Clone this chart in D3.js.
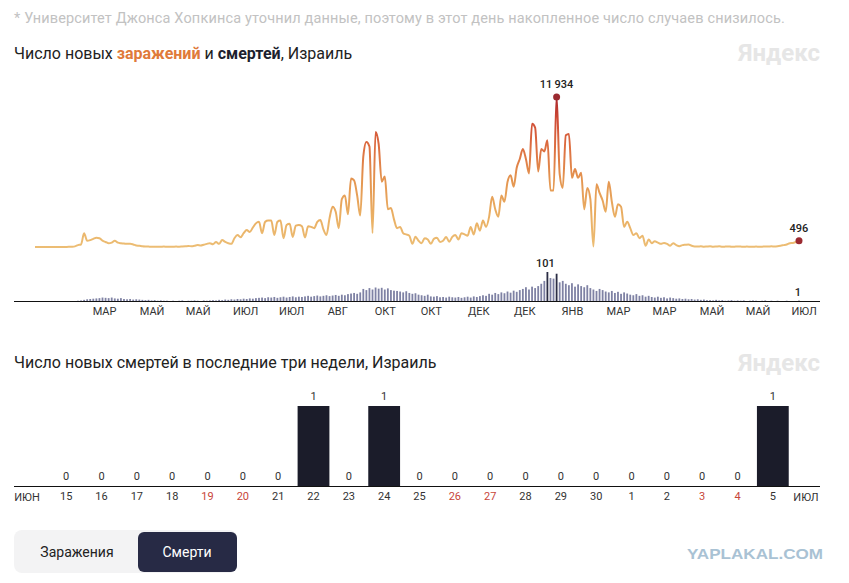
<!DOCTYPE html>
<html>
<head>
<meta charset="utf-8">
<script src="https://cdn.jsdelivr.net/npm/d3@7"></script>
<style>
    body { margin: 0; background: #fff; }
    svg { display: block; font-family: Roboto, "Open Sans", sans-serif; }
</style>
</head>
<body>
<svg id="chart" width="849" height="583"></svg>
<script>
;(function(d3) {

    'use strict';

    // --- data, one value every 2 days (21 Feb 2020 .. 5 Jul 2021) ---
    var dayStep = 2;

    var cases = [
        0,0,0,0,0,0,0,0,0,0,
        5,10,20,50,150,200,
        1100,500,550,650,740,700,500,400,300,350,500,350,300,280,250,250,200,120,100,60,40,
        30,20,25,15,20,30,15,20,25,30,20,40,
        60,80,60,100,150,120,180,250,300,220,400,250,550,400,300,250,
        700,950,770,1100,1350,1200,1550,1880,2000,1100,2000,2100,2100,950,2000,2100,700,1750,1850,800,1700,1750,1650,750,1650,1600,1500,2000,2150,1400,950,
        2300,3200,2800,1500,3800,4100,2600,5450,5300,4100,2500,7200,8360,8000,1100,9150,8200,5200,5600,3000,3100,2200,1500,1600,1100,1000,900,250,820,500,
        300,700,600,250,650,740,400,500,800,420,800,950,600,1100,1000,900,1600,1000,1880,1300,2100,1600,2400,
        4000,3000,2400,4100,3600,5180,5700,4800,6300,7000,7800,7000,5850,9800,9500,6000,7800,7600,8500,4500,4500,11934,5800,4700,8890,9000,5500,6200,5500,5900,3000,4700,3800,
        30,5000,4300,3700,2800,5200,3600,2400,3400,3200,1600,2000,1500,950,1100,700,900,100,600,300,450,350,250,320,250,100,300,150,60,150,180,200,100,40,
        30,50,20,40,60,25,35,50,20,30,45,20,25,40,30,20,35,25,15,30,20,25,40,30,
        50,40,60,100,150,200,300,320,400,496
    ];

    var deaths = [
        0,0,0,0,0,0,0,0,0,0,0,0,0,0,
        1,2,4,6,7,8,9,
        10,12,11,10,12,9,8,10,7,
        6,7,5,6,5,4,3,4,2,3,1,2,1,1,0,
        1,0,1,2,0,1,1,2,1,0,2,1,2,3,2,
        4,3,5,4,6,5,7,6,8,7,9,8,10,
        11,12,10,13,12,14,11,13,15,12,14,16,13,15,14,
        16,18,15,17,19,16,18,20,17,19,21,18,22,20,24,26,
        28,25,30,42,38,45,40,
        47,43,46,40,44,38,36,
        35,33,30,34,28,25,27,22,
        20,18,22,16,15,17,13,14,12,15,
        13,12,14,11,13,15,12,16,14,17,
        20,18,25,22,28,24,30,27,33,29,36,32,38,
        42,48,40,50,45,52,60,
        70,101,80,78,95,65,70,
        60,55,62,50,58,52,48,55,
        45,40,35,42,38,33,30,
        35,28,32,25,30,26,22,20,
        24,18,20,15,18,14,12,15,
        11,13,9,12,10,8,9,7,
        8,6,7,5,6,4,5,3,
        3,2,4,2,3,1,2,3,1,2,1,2,0,1,2,1,0,1,2,0,1,
        0,1,0,0,1,0,0,0,1
    ];

    var tickDays   = [45, 76, 106, 137, 167, 197, 228, 258, 289, 319, 350, 380, 410, 441, 471, 501];
    var tickLabels = ['МАР','МАЙ','МАЙ','ИЮЛ','ИЮЛ','АВГ','ОКТ','ОКТ','ДЕК','ДЕК','ЯНВ','МАР','МАР','МАЙ','МАЙ','ИЮЛ'];

    // last three weeks
    var recentDays   = ['15','16','17','18','19','20','21','22','23','24','25','26','27','28','29','30','1','2','3','4','5'];
    var recentDeaths = [0,0,0,0,0,0,0,1,0,1,0,0,0,0,0,0,0,0,0,0,1];
    var weekendDays  = ['19','20','26','27','3','4'];

    var svg = d3.select('#chart');

    // ================ HEADER ================
    svg.append('text')
        .attr('x', 14).attr('y', 23)
        .attr('font-size', 14.5).attr('letter-spacing', 0.15).attr('fill', '#c2c2c2')
        .text('* Университет Джонса Хопкинса уточнил данные, поэтому в этот день накопленное число случаев снизилось.');

    var t1 = svg.append('text')
        .attr('x', 14).attr('y', 59)
        .attr('font-size', 16).attr('fill', '#222');
    t1.append('tspan').text('Число новых ');
    t1.append('tspan').attr('font-weight', 700).attr('fill', '#e07a3a').text('заражений');
    t1.append('tspan').text(' и ');
    t1.append('tspan').attr('font-weight', 700).attr('fill', '#1d1f2e').text('смертей');
    t1.append('tspan').text(', Израиль');

    svg.selectAll('text.logo')
        .data([61, 371])
        .enter().append('text')
        .attr('class', 'logo')
        .attr('x', 820).attr('y', function(d) { return d; })
        .attr('text-anchor', 'end')
        .attr('font-size', 24).attr('font-weight', 700)
        .attr('fill', '#e6e6e6')
        .text('Яндекс');

    // ================ MAIN CHART ================
    var x = d3.scaleLinear().domain([0, (cases.length - 1) * dayStep]).range([35, 799]);
    var yCases  = d3.scaleLinear().domain([0, d3.max(cases)]).range([247, 97]);
    var yDeaths = d3.scaleLinear().domain([0, d3.max(deaths)]).range([301, 272]);

    var defs = svg.append('defs');
    var grad = defs.append('linearGradient')
        .attr('id', 'caseGrad')
        .attr('gradientUnits', 'userSpaceOnUse')
        .attr('x1', 0).attr('x2', 0)
        .attr('y1', yCases(0)).attr('y2', yCases(d3.max(cases)));
    grad.selectAll('stop')
        .data([[0, '#ecbd74'], [0.2, '#eab064'], [0.45, '#e49550'], [0.68, '#dc6c40'], [0.85, '#cf4b35'], [1, '#a9272d']])
        .enter().append('stop')
        .attr('offset', function(d) { return d[0]; })
        .attr('stop-color', function(d) { return d[1]; });

    // deaths bars
    var maxDeathIdx = d3.maxIndex(deaths);
    var maxCaseIdx  = d3.maxIndex(cases);
    var lastIdx     = deaths.length - 1;

    svg.append('g')
        .selectAll('rect')
        .data(deaths)
        .enter().append('rect')
        .attr('x', function(d, i) { return x(i * dayStep) - 0.9; })
        .attr('width', 1.8)
        .attr('y', function(d) { return yDeaths(d); })
        .attr('height', function(d) { return yDeaths(0) - yDeaths(d); })
        .attr('fill', function(d, i) {
            return (i === maxDeathIdx || i === maxCaseIdx || i === lastIdx) ? '#2a2c44' : '#7f82a4';
        });

    // cases line
    var line = d3.line()
        .curve(d3.curveMonotoneX)
        .x(function(d, i) { return x(i * dayStep); })
        .y(function(d) { return yCases(d); });

    svg.append('path')
        .datum(cases)
        .attr('d', line)
        .attr('fill', 'none')
        .attr('stroke', 'url(#caseGrad)')
        .attr('stroke-width', 2)
        .attr('stroke-linejoin', 'round');

    // marks for peak and last value
    var marks = [
        { i: maxCaseIdx, v: cases[maxCaseIdx] },
        { i: cases.length - 1, v: cases[cases.length - 1] }
    ];
    var fmt = function(v) { return d3.format(',')(v).replace(',', '\u2009'); };

    svg.selectAll('circle.mark')
        .data(marks)
        .enter().append('circle')
        .attr('class', 'mark')
        .attr('cx', function(d) { return x(d.i * dayStep); })
        .attr('cy', function(d) { return yCases(d.v); })
        .attr('r', 3.5)
        .attr('fill', '#9b2a30');

    svg.selectAll('text.mark')
        .data(marks)
        .enter().append('text')
        .attr('class', 'mark')
        .attr('x', function(d) { return x(d.i * dayStep); })
        .attr('y', function(d) { return yCases(d.v) - 9; })
        .attr('text-anchor', 'middle')
        .attr('font-size', 11).attr('font-weight', 500).attr('fill', '#222')
        .text(function(d) { return fmt(d.v); });

    svg.selectAll('text.dmark')
        .data([maxDeathIdx, lastIdx])
        .enter().append('text')
        .attr('class', 'dmark')
        .attr('x', function(d) { return x(d * dayStep) - (d === maxDeathIdx ? 2 : 1); })
        .attr('y', function(d) { return yDeaths(deaths[d]) - 5; })
        .attr('text-anchor', 'middle')
        .attr('font-size', 11).attr('font-weight', 500).attr('fill', '#222')
        .text(function(d) { return deaths[d]; });

    // x axis
    svg.append('line')
        .attr('x1', 14).attr('x2', 820)
        .attr('y1', 301.5).attr('y2', 301.5)
        .attr('stroke', '#111').attr('stroke-width', 1);

    var xAxis = d3.axisBottom(x)
        .tickValues(tickDays)
        .tickSize(0)
        .tickPadding(0)
        .tickFormat(function(d, i) { return tickLabels[i]; });

    var gx = svg.append('g')
        .attr('transform', 'translate(0,307)')
        .call(xAxis);
    gx.select('.domain').remove();
    gx.selectAll('text')
        .attr('font-family', 'Roboto, sans-serif')
        .attr('font-size', 11)
        .attr('fill', '#333');

    // ================ LAST THREE WEEKS ================
    svg.append('text')
        .attr('x', 14).attr('y', 368)
        .attr('font-size', 16).attr('fill', '#222')
        .text('Число новых смертей в последние три недели, Израиль');

    var xb = d3.scaleBand()
        .domain(recentDays)
        .range([48.5, 790.5])
        .paddingInner(0.1)
        .paddingOuter(0.05);
    var yb = d3.scaleLinear().domain([0, d3.max(recentDeaths)]).range([486, 406]);

    var bar = svg.append('g')
        .selectAll('g')
        .data(recentDays)
        .enter().append('g');

    bar.append('rect')
        .attr('x', function(d) { return xb(d); })
        .attr('width', xb.bandwidth())
        .attr('y', function(d, i) { return yb(recentDeaths[i]); })
        .attr('height', function(d, i) { return yb(0) - yb(recentDeaths[i]); })
        .attr('fill', '#1b1c2a');

    bar.append('text')
        .attr('x', function(d) { return xb(d) + xb.bandwidth() / 2; })
        .attr('y', function(d, i) { return yb(recentDeaths[i]) - 6; })
        .attr('text-anchor', 'middle')
        .attr('font-size', 11).attr('fill', '#333')
        .text(function(d, i) { return recentDeaths[i]; });

    svg.append('line')
        .attr('x1', 14).attr('x2', 820)
        .attr('y1', 486.5).attr('y2', 486.5)
        .attr('stroke', '#111').attr('stroke-width', 1);

    var bAxis = d3.axisBottom(xb).tickSize(0).tickPadding(0);
    var gb = svg.append('g')
        .attr('transform', 'translate(0,492)')
        .call(bAxis);
    gb.select('.domain').remove();
    gb.selectAll('text')
        .attr('font-family', 'Roboto, sans-serif')
        .attr('font-size', 11)
        .attr('fill', function(d) { return weekendDays.indexOf(d) >= 0 ? '#c8463a' : '#333'; });

    svg.selectAll('text.month')
        .data([[27, 'ИЮН'], [806, 'ИЮЛ']])
        .enter().append('text')
        .attr('class', 'month')
        .attr('x', function(d) { return d[0]; })
        .attr('y', 501)
        .attr('text-anchor', 'middle')
        .attr('font-size', 11).attr('fill', '#333')
        .text(function(d) { return d[1]; });

    // ================ SWITCH ================
    var sw = svg.append('g');
    sw.append('rect')
        .attr('x', 14).attr('y', 530).attr('width', 223).attr('height', 43)
        .attr('rx', 8).attr('fill', '#f3f3f4');
    sw.append('rect')
        .attr('x', 138).attr('y', 532).attr('width', 99).attr('height', 40)
        .attr('rx', 6).attr('fill', '#272a45');
    sw.append('text')
        .attr('x', 77).attr('y', 557).attr('text-anchor', 'middle')
        .attr('font-size', 14).attr('fill', '#222')
        .text('Заражения');
    sw.append('text')
        .attr('x', 187).attr('y', 557).attr('text-anchor', 'middle')
        .attr('font-size', 14).attr('fill', '#fff')
        .text('Смерти');

    svg.append('text')
        .attr('x', 687).attr('y', 559)
        .attr('font-family', '"Liberation Sans", sans-serif')
        .attr('font-size', 15).attr('font-weight', 700)
        .attr('textLength', 136).attr('lengthAdjust', 'spacingAndGlyphs')
        .attr('fill', '#a9c2d4')
        .text('YAPLAKAL.COM');

}(window.d3));
</script>
</body>
</html>
